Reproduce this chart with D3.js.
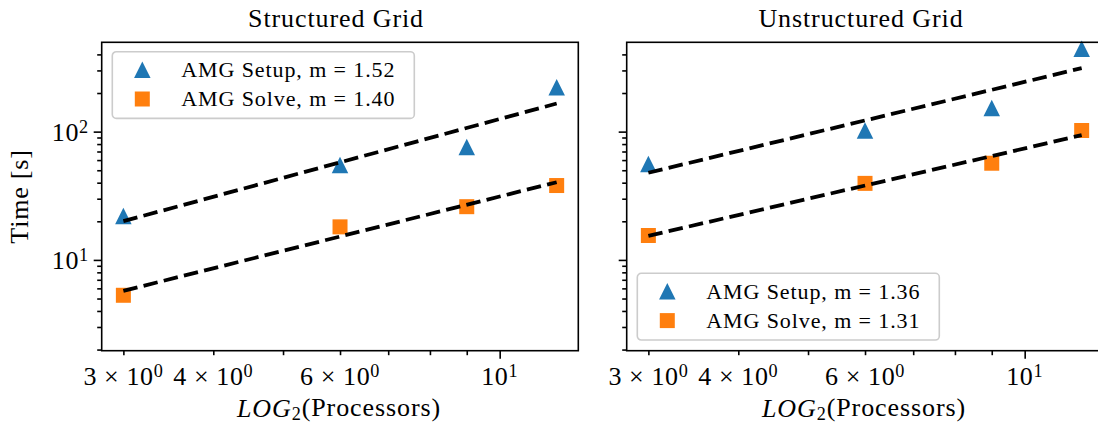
<!DOCTYPE html>
<html>
<head>
<meta charset="utf-8">
<script src="https://cdn.jsdelivr.net/npm/d3@7"></script>
<style>
  body { margin: 0; background: #fff; }
  svg text { font-family: "Liberation Serif", "DejaVu Serif", serif; fill: #000; }
</style>
</head>
<body>
<div id="chart"></div>
<script>
// values
var processors = [3, 6, 9, 12];
var structuredSetup = [22, 55, 76, 222];
var structuredSolve = [5.3, 18.1, 26, 38];
var unstructuredSetup = [56, 102, 153, 443];
var unstructuredSolve = [15.5, 39.5, 56.7, 102];

var panelTitles = ["Structured Grid", "Unstructured Grid"];
var setupLabels = ["AMG Setup, m = 1.52", "AMG Setup, m = 1.36"];
var solveLabels = ["AMG Solve, m = 1.40", "AMG Solve, m = 1.31"];

var xLabeledMinor = [3, 4, 6];
var xMinorTicks = [3, 4, 5, 6, 7, 8, 9];
var xMajorTicks = [10];
var yMajorTicks = [10, 100];

var width = 1098, height = 425;
var blue = "#1f77b4", orange = "#ff7f0e";

var svg = d3.select("#chart").append("svg")
  .attr("width", width)
  .attr("height", height);

var plotW = 476.6, plotTop = 42.3, plotBottom = 350.7;
var panelLeft = [101.7, 626.7];

var y = d3.scaleLog().domain([1.96, 497]).range([plotBottom, plotTop]);

// matplotlib style triangle, centred on its bounding box
var triangleUp = {
  draw: function(ctx, size) {
    var h = Math.sqrt(size) / 2;
    ctx.moveTo(0, -h);
    ctx.lineTo(h, h);
    ctx.lineTo(-h, h);
    ctx.closePath();
  }
};
var triSymbol = d3.symbol().type(triangleUp).size(16.5 * 16.5);
var sqSymbol = d3.symbol().type(d3.symbolSquare).size(15 * 15);

// least squares fit in log-log space
function fitLine(xs, ys) {
  var lx = xs.map(Math.log10), ly = ys.map(Math.log10);
  var mx = d3.mean(lx), my = d3.mean(ly);
  var sxy = d3.sum(lx, (v, i) => (v - mx) * (ly[i] - my));
  var sxx = d3.sum(lx, v => (v - mx) * (v - mx));
  var m = sxy / sxx, b = my - m * mx;
  return xs.map(v => [v, Math.pow(10, b + m * Math.log10(v))]);
}

function supLabel(sel, base, exp) {
  sel.append("tspan").text(base);
  sel.append("tspan").attr("dy", "-0.42em").attr("font-size", "0.7em").text(exp);
}

var panels = [
  {setup: structuredSetup, solve: structuredSolve, legendX: 112.3, legendY: 51.7},
  {setup: unstructuredSetup, solve: unstructuredSolve, legendX: 637.3, legendY: 273.3}
];

panels.forEach(function(p, k) {
  var left = panelLeft[k];
  var x = d3.scaleLog().domain([2.799, 12.86]).range([left, left + plotW]);
  var g = svg.append("g");

  // ticks
  var xMinorAxis = d3.axisBottom(x).tickValues(xMinorTicks).tickSize(4.5).tickFormat("");
  var xMajorAxis = d3.axisBottom(x).tickValues(xMajorTicks).tickSize(8).tickFormat("");
  g.append("g").attr("transform", "translate(0," + plotBottom + ")").call(xMinorAxis);
  g.append("g").attr("transform", "translate(0," + plotBottom + ")").call(xMajorAxis);

  var yMinor = [];
  [1, 10, 100].forEach(d => { for (var i = 2; i <= 9; i++) yMinor.push(d * i); });
  yMinor = yMinor.filter(v => v >= 1.96 && v <= 497);
  g.append("g").attr("transform", "translate(" + left + ",0)")
    .call(d3.axisLeft(y).tickValues(yMinor).tickSize(4.5).tickFormat(""));
  g.append("g").attr("transform", "translate(" + left + ",0)")
    .call(d3.axisLeft(y).tickValues(yMajorTicks).tickSize(8).tickFormat(""));

  g.selectAll(".domain").remove();
  g.selectAll(".tick line").attr("stroke", "#000").attr("stroke-width", 1.6);

  // x tick labels
  xLabeledMinor.forEach(function(v) {
    var t = g.append("text").attr("x", x(v)).attr("y", 385)
      .attr("text-anchor", "middle").attr("font-size", 26).attr("letter-spacing", 0.6);
    supLabel(t, v + " \u00d7 10", "0");
  });
  xMajorTicks.forEach(function(v) {
    var t = g.append("text").attr("x", x(v)).attr("y", 385)
      .attr("text-anchor", "middle").attr("font-size", 26).attr("letter-spacing", 0.6);
    supLabel(t, "10", "1");
  });

  // y tick labels on first panel only
  if (k === 0) {
    yMajorTicks.forEach(function(v) {
      var t = g.append("text").attr("x", left - 13).attr("y", y(v) + 9)
        .attr("text-anchor", "end").attr("font-size", 26).attr("letter-spacing", 0.6);
      supLabel(t, "10", String(Math.round(Math.log10(v))));
    });
    g.append("text")
      .attr("transform", "translate(28," + ((plotTop + plotBottom) / 2) + ") rotate(-90)")
      .attr("text-anchor", "middle").attr("font-size", 26).attr("letter-spacing", 0.8)
      .text("Time [s]");
  }

  // markers
  g.selectAll(".setup").data(processors).enter().append("path")
    .attr("d", triSymbol).attr("fill", blue)
    .attr("transform", (d, i) => "translate(" + x(d) + "," + y(p.setup[i]) + ")");
  g.selectAll(".solve").data(processors).enter().append("path")
    .attr("d", sqSymbol).attr("fill", orange)
    .attr("transform", (d, i) => "translate(" + x(d) + "," + y(p.solve[i]) + ")");

  // fitted lines
  var line = d3.line().x(d => x(d[0])).y(d => y(d[1]));
  [p.setup, p.solve].forEach(function(series) {
    var pts = fitLine(processors, series);
    g.append("path")
      .attr("d", line([pts[0], pts[pts.length - 1]]))
      .attr("fill", "none").attr("stroke", "#000")
      .attr("stroke-width", 3.8).attr("stroke-dasharray", "14.5 6.3");
  });

  // frame
  g.append("rect")
    .attr("x", left).attr("y", plotTop)
    .attr("width", plotW).attr("height", plotBottom - plotTop)
    .attr("fill", "none").attr("stroke", "#000").attr("stroke-width", 1.6);

  // title and x label
  g.append("text").attr("x", left + plotW / 2 - 4).attr("y", 27)
    .attr("text-anchor", "middle").attr("font-size", 26).attr("letter-spacing", 0.9)
    .text(panelTitles[k]);
  var xl = g.append("text").attr("x", left + plotW / 2 - 1).attr("y", 417)
    .attr("text-anchor", "middle").attr("font-size", 26).attr("letter-spacing", 0.9);
  xl.append("tspan").attr("font-style", "italic").text("LOG");
  xl.append("tspan").attr("dy", "0.18em").attr("font-size", "0.7em").text("2");
  xl.append("tspan").attr("dy", "-0.18em").text("(Processors)");

  // legend
  var lg = g.append("g").attr("transform", "translate(" + p.legendX + "," + p.legendY + ")");
  lg.append("rect").attr("width", 302).attr("height", 66.7).attr("rx", 4)
    .attr("fill", "#fff").attr("fill-opacity", 0.8)
    .attr("stroke", "#cccccc").attr("stroke-width", 1.6);
  var rows = [
    {sym: triSymbol, color: blue, label: setupLabels[k], dy: 18},
    {sym: sqSymbol, color: orange, label: solveLabels[k], dy: 47.3}
  ];
  rows.forEach(function(r) {
    lg.append("path").attr("d", r.sym).attr("fill", r.color)
      .attr("transform", "translate(30," + r.dy + ")");
    lg.append("text").attr("x", 69).attr("y", r.dy + 7.5)
      .attr("font-size", 22).attr("letter-spacing", 0.9).text(r.label);
  });
});
</script>
</body>
</html>
